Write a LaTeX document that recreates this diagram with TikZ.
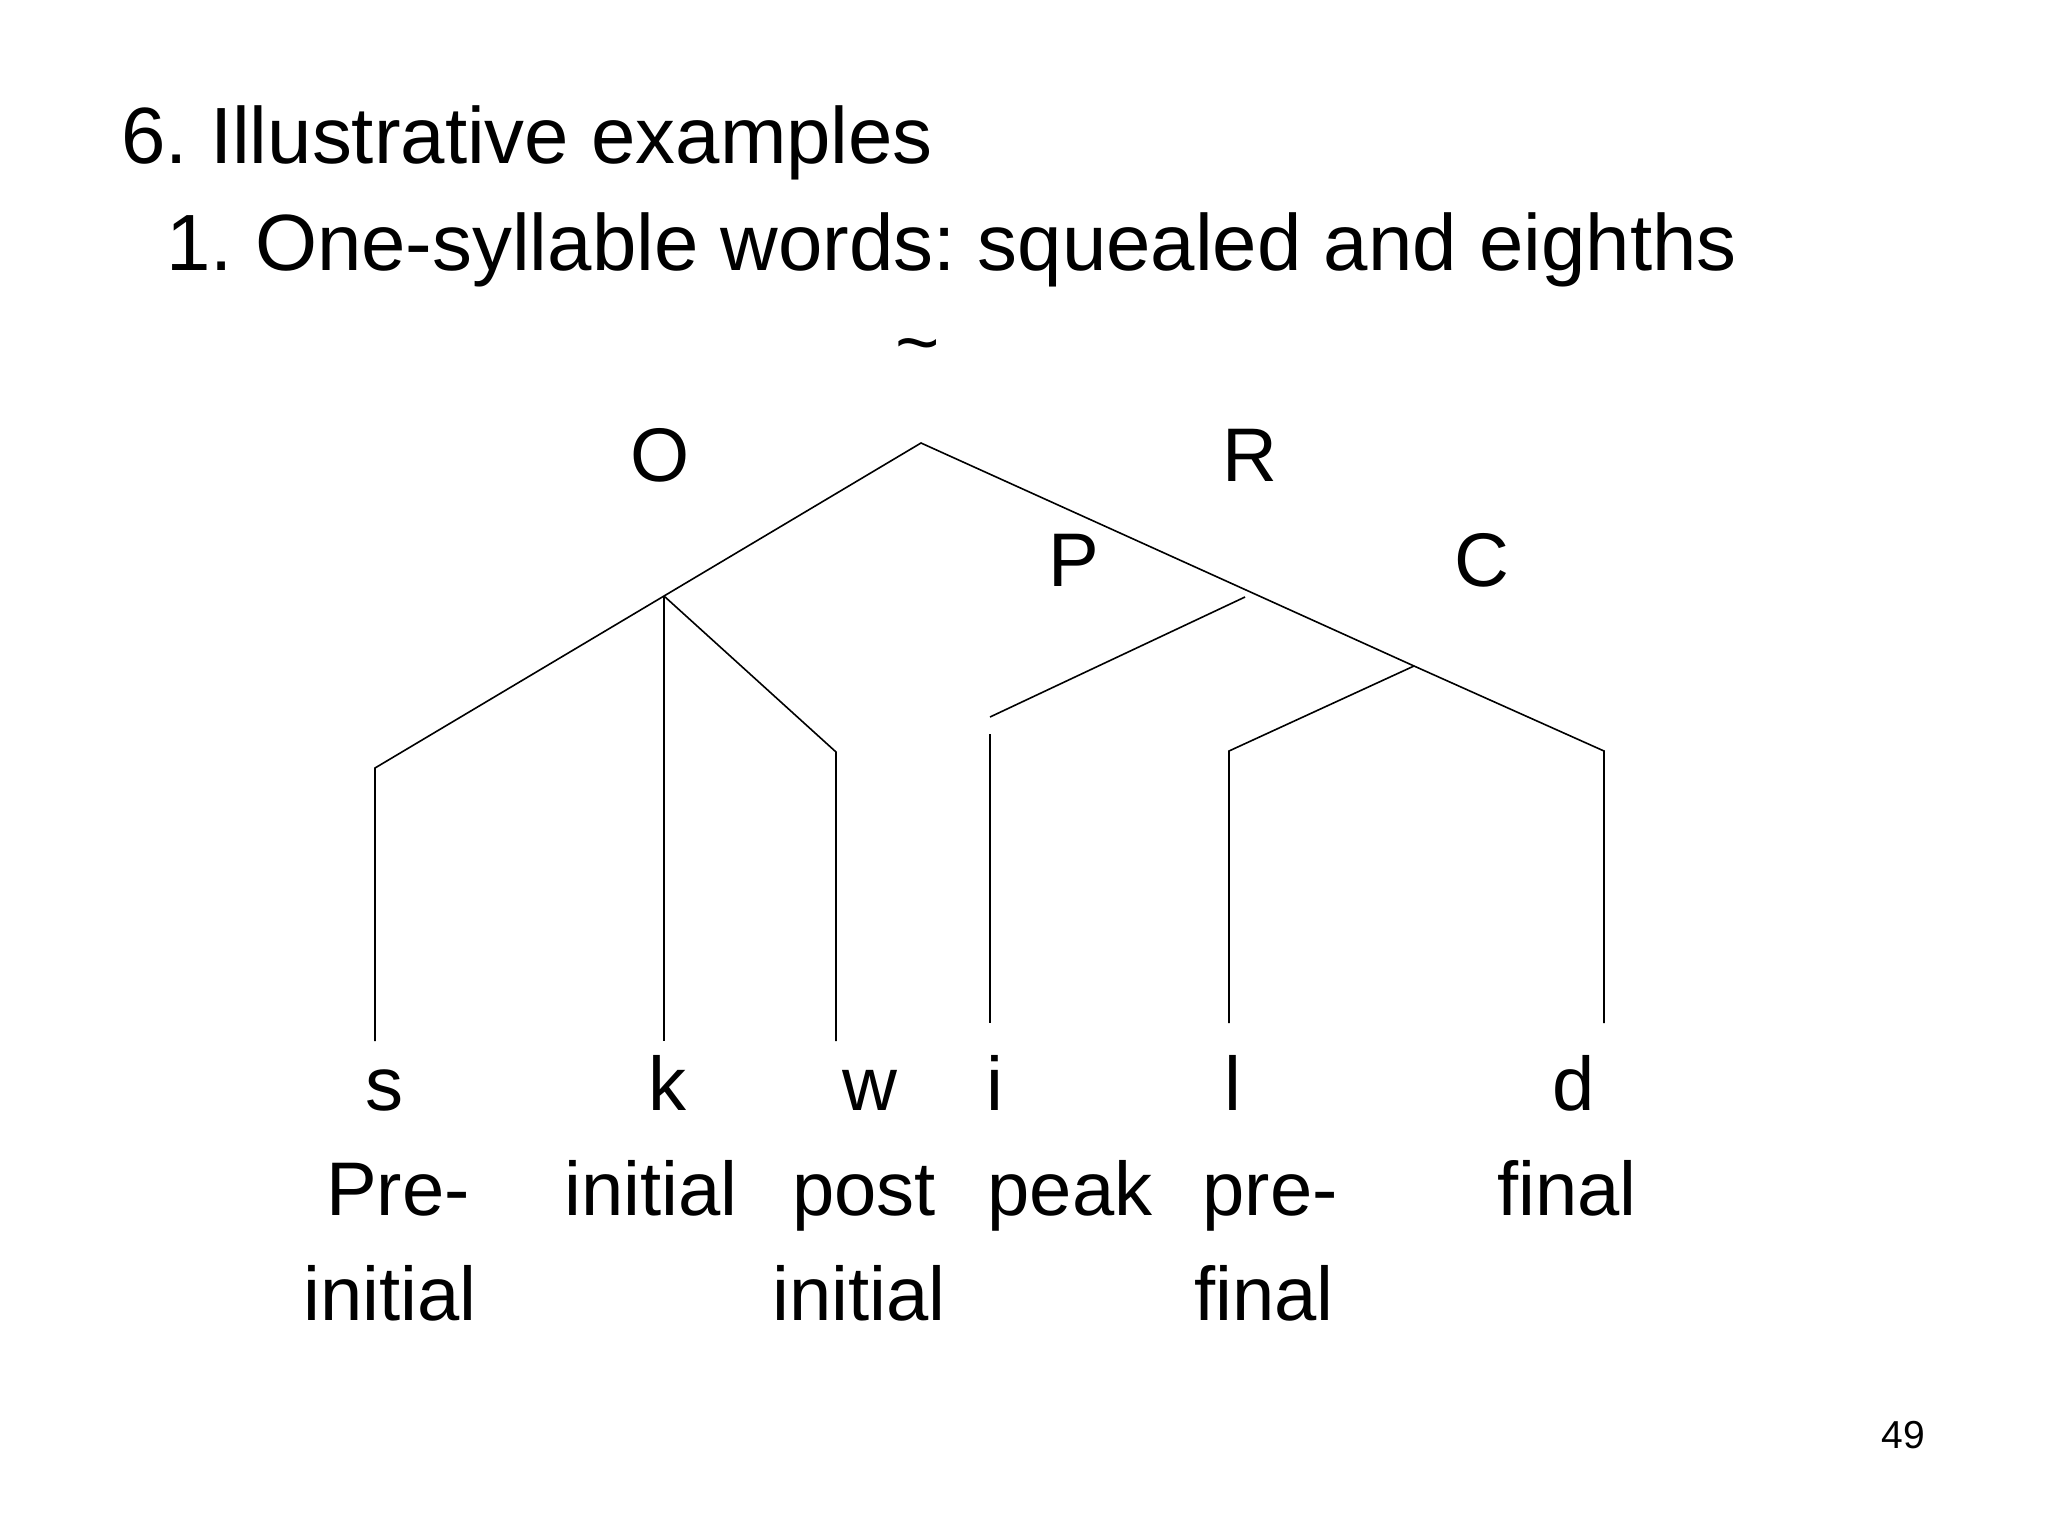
\documentclass[tikz,border=0pt]{standalone}
\usepackage{fontspec}
\setmainfont{Liberation Sans}
\frenchspacing
\begin{document}
\begin{tikzpicture}[x=0.5pt,y=-0.5pt,
  title/.style={anchor=base west,inner sep=0pt,font=\fontsize{39.9}{47}\selectfont},
  lbl/.style={anchor=base,inner sep=0pt,font=\fontsize{38}{46}\selectfont},
  branch/.style={line width=0.8pt,line join=miter}]
\useasboundingbox[fill=white] (0,0) rectangle (2048,1536);
% titles
\node[title] (t1) at (121,163) {6. Illustrative examples};
\node[title] (t2) at (166,270) {1. One-syllable words: squealed and eighths};
% constituent labels
\node[lbl] (sig) at (918,368) {\char"7E};
\node[lbl] (O) at (660,481) {O};
\node[lbl] (R) at (1250,481) {R};
\node[lbl] (P) at (1074,586) {P};
\node[lbl] (C) at (1482,586) {C};
% segments
\node[lbl] (s) at (384,1110) {s};
\node[lbl] (k) at (667,1110) {k};
\node[lbl] (w) at (870,1110) {w};
\node[lbl] (i) at (995,1110) {i};
\node[lbl] (l) at (1233,1110) {l};
\node[lbl] (d) at (1574,1110) {d};
% slot names
\node[lbl] (n1) at (398,1215) {Pre-};
\node[lbl] (n1b) at (390,1320) {initial};
\node[lbl] (n2) at (651,1215) {initial};
\node[lbl] (n3) at (864,1215) {post};
\node[lbl] (n3b) at (859,1320) {initial};
\node[lbl] (n4) at (1070,1215) {peak};
\node[lbl] (n5) at (1270,1215) {pre-};
\node[lbl] (n5b) at (1264,1320) {final};
\node[lbl] (n6) at (1567,1215) {final};
% page number
\node[anchor=base,inner sep=0pt,font=\fontsize{19.5}{23}\selectfont] (pg) at (1903,1448) {49};
% tree coordinates
\coordinate (apex) at (921,443);
\coordinate (oj) at (664,596);
\coordinate (sb) at (375,768);
\coordinate (se) at (375,1041);
\coordinate (ke) at (664,1041);
\coordinate (wb) at (836,752);
\coordinate (we) at (836,1041);
\coordinate (pt) at (1245,597);
\coordinate (pb) at (990,717);
\coordinate (it) at (990,734);
\coordinate (ie) at (990,1023);
\coordinate (cj) at (1414,666);
\coordinate (lb) at (1229,751);
\coordinate (le) at (1229,1023);
\coordinate (db) at (1604,751);
\coordinate (de) at (1604,1023);
% branches
\draw[branch] (se) -- (sb) -- (oj) -- (apex) -- (cj) -- (db) -- (de);
\draw[branch] (oj) -- (ke);
\draw[branch] (oj) -- (wb) -- (we);
\draw[branch] (pt) -- (pb);
\draw[branch] (it) -- (ie);
\draw[branch] (cj) -- (lb) -- (le);
\end{tikzpicture}
\end{document}
